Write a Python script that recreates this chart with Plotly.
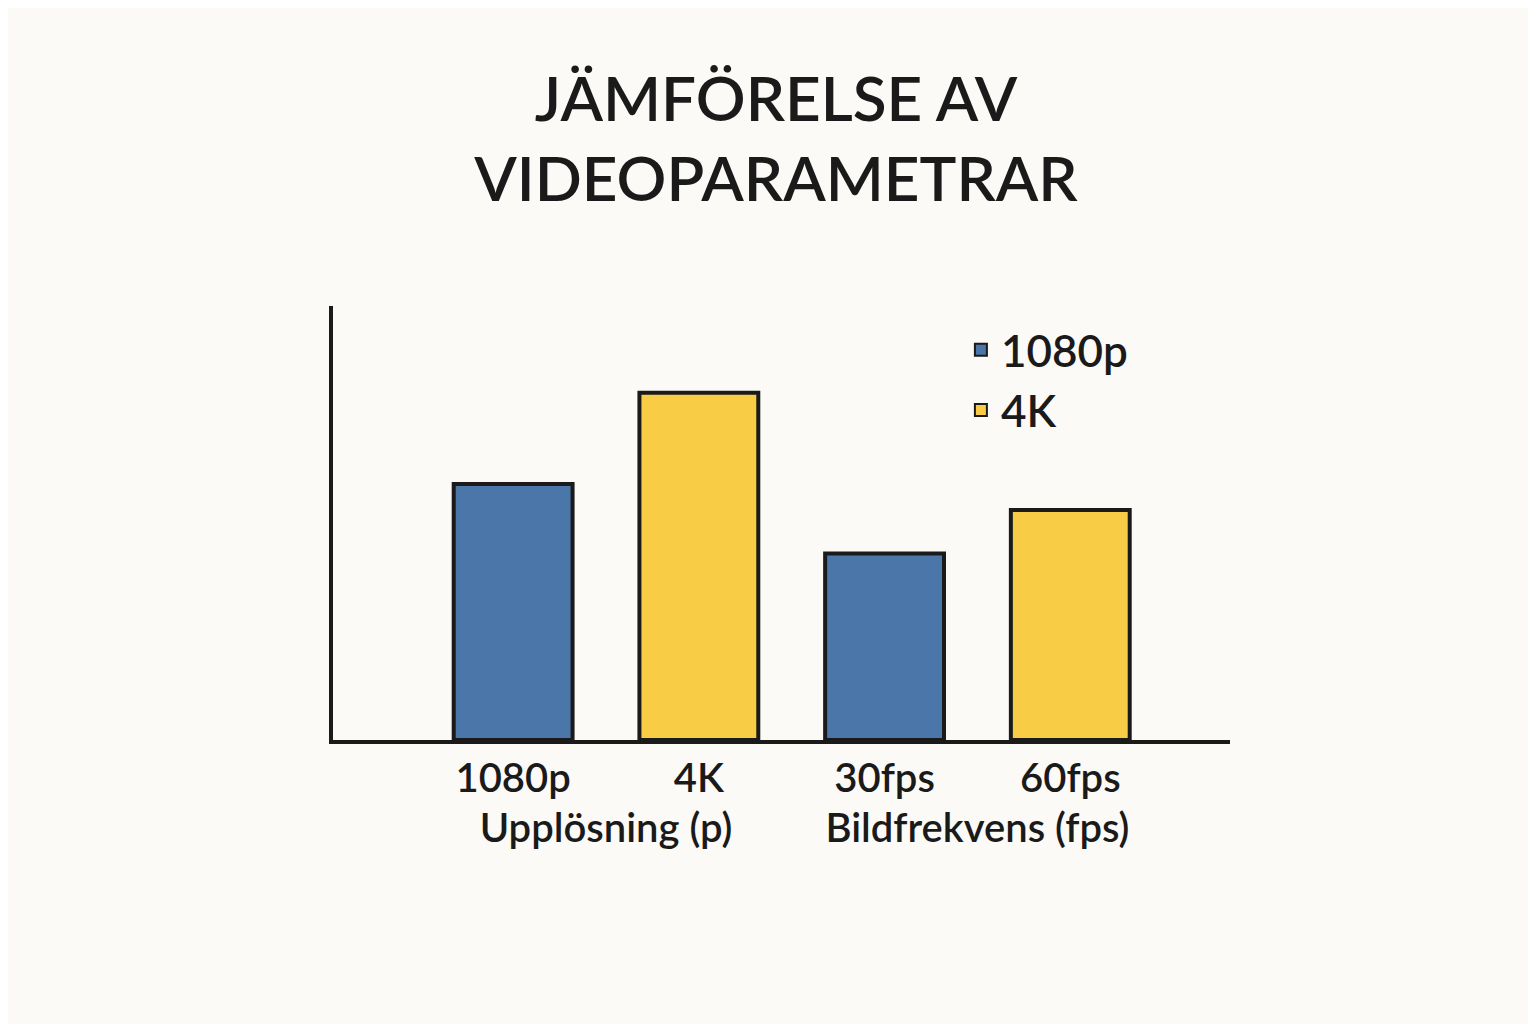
import plotly.graph_objects as go

groups = ["Upplösning (p)", "Upplösning (p)", "Bildfrekvens (fps)", "Bildfrekvens (fps)"]
labels = ["1080p", "4K", "30fps", "60fps"]
values = [59, 80, 43, 53]
series = ["1080p", "4K", "1080p", "4K"]
colors = {"1080p": "#4a76aa", "4K": "#f8cd45"}

fig = go.Figure()
for name in ["1080p", "4K"]:
    idx = [i for i, s in enumerate(series) if s == name]
    fig.add_trace(go.Bar(
        x=[[groups[i] for i in idx], [labels[i] for i in idx]],
        y=[values[i] for i in idx],
        name=name,
        marker=dict(color=colors[name], line=dict(color="#1a1a1a", width=4)),
        width=0.64,
    ))

fig.update_layout(
    barmode="overlay",
    width=1536, height=1024,
    paper_bgcolor="#fcfaf6", plot_bgcolor="#fcfaf6",
    margin=dict(l=325, r=314, t=298, b=292),
    font=dict(family="Lato, Open Sans, sans-serif", color="#1a1a1a", size=40, weight=600),
    title=dict(text="JÄMFÖRELSE AV<br>VIDEOPARAMETRAR", x=0.5, xanchor="center",
               y=0.89, yanchor="top", font=dict(size=62, weight=600)),
    legend=dict(x=0.7, y=0.98, xanchor="left", yanchor="top", font=dict(size=44),
                bgcolor="rgba(0,0,0,0)", itemsizing="constant"),
    xaxis=dict(type="multicategory", range=[-0.97, 3.86], showline=True, linecolor="#1a1a1a",
               linewidth=4, showgrid=False, showdividers=False, ticks="",
               tickfont=dict(size=40, weight=600)),
    yaxis=dict(range=[0, 100], showline=True, linecolor="#1a1a1a", linewidth=4,
               showgrid=False, showticklabels=False, zeroline=False, ticks=""),
)
fig.write_html("out.html")
